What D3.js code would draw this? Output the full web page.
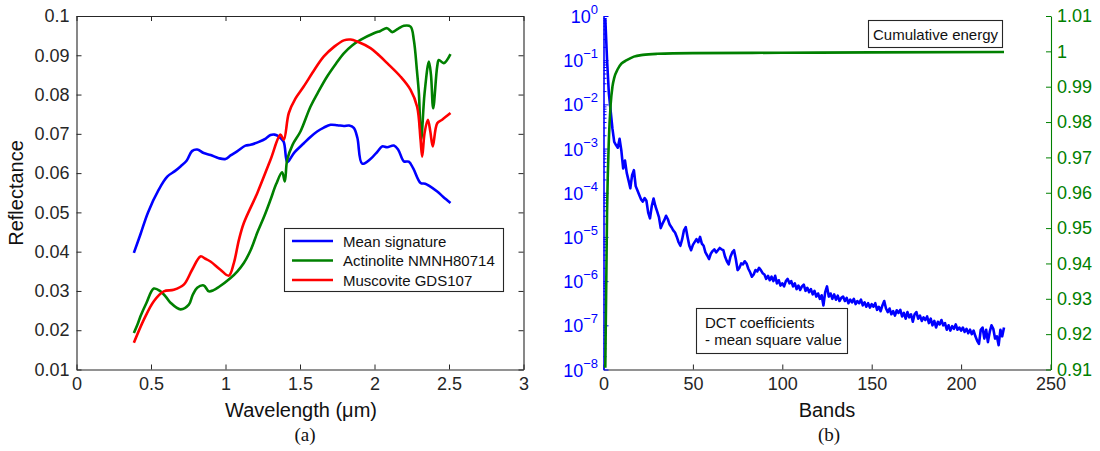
<!DOCTYPE html>
<html><head><meta charset="utf-8">
<script src="https://cdn.jsdelivr.net/npm/d3@7"></script>
<style>
body{margin:0;background:#fff}
svg{display:block}
text{font-family:"Liberation Sans",Arial,Helvetica,sans-serif}
</style>
</head><body>
<svg id="c" width="1100" height="451"></svg>
<script>
// ---------- Panel (a) data ----------
const meanWl   = [0.385,0.43,0.48,0.552,0.609,0.66,0.698,0.74,0.775,0.81,0.854,0.90,0.955,1.0,1.034,1.08,1.134,1.168,1.22,1.27,1.302,1.33,1.358,1.39,1.414,1.44,1.459,1.526,1.57,1.615,1.66,1.705,1.75,1.794,1.83,1.861,1.885,1.917,1.973,2.02,2.051,2.085,2.13,2.16,2.197,2.23,2.26,2.309,2.34,2.365,2.421,2.46,2.51];
const meanRefl = [0.0397,0.0445,0.050,0.0558,0.0591,0.0605,0.0617,0.0632,0.0656,0.0660,0.0651,0.0646,0.0638,0.0636,0.0645,0.0656,0.0670,0.0672,0.0679,0.0688,0.0697,0.0698,0.0693,0.0680,0.0628,0.0640,0.0651,0.0676,0.0692,0.0706,0.0716,0.0723,0.0722,0.0720,0.0721,0.0715,0.0690,0.0624,0.0636,0.0655,0.0668,0.0666,0.0670,0.0659,0.0630,0.0629,0.0612,0.0575,0.0573,0.0568,0.0553,0.0540,0.0524];

const actWl   = [0.385,0.41,0.43,0.47,0.519,0.564,0.60,0.631,0.698,0.754,0.78,0.81,0.854,0.888,0.92,0.955,1.034,1.08,1.123,1.17,1.213,1.26,1.302,1.34,1.380,1.398,1.414,1.45,1.503,1.570,1.62,1.682,1.74,1.794,1.85,1.906,1.996,2.04,2.085,2.119,2.16,2.197,2.242,2.264,2.285,2.298,2.313,2.336,2.365,2.379,2.394,2.421,2.432,2.465,2.51];
const actRefl = [0.0193,0.0215,0.0236,0.0270,0.0306,0.0299,0.0285,0.0270,0.0253,0.0265,0.0290,0.0308,0.0314,0.0299,0.0302,0.0310,0.0333,0.0350,0.0371,0.0405,0.0448,0.0490,0.0532,0.0572,0.0602,0.0579,0.0634,0.0672,0.0706,0.0769,0.0805,0.0846,0.0878,0.0905,0.0925,0.0939,0.0956,0.0962,0.0969,0.0959,0.0968,0.0975,0.0973,0.0939,0.0860,0.0803,0.0685,0.0803,0.0884,0.0850,0.0765,0.0872,0.0888,0.0880,0.0903];

const musWl   = [0.385,0.452,0.519,0.586,0.653,0.720,0.776,0.832,0.865,0.899,0.966,1.022,1.056,1.09,1.123,1.213,1.302,1.369,1.391,1.425,1.47,1.526,1.60,1.660,1.73,1.794,1.84,1.884,1.973,2.03,2.085,2.174,2.242,2.286,2.309,2.320,2.336,2.358,2.375,2.391,2.421,2.454,2.51];
const musRefl = [0.0168,0.0227,0.0274,0.0299,0.0303,0.0316,0.0354,0.0388,0.0382,0.0375,0.0354,0.0339,0.0371,0.0430,0.0473,0.0549,0.0634,0.0698,0.0685,0.0753,0.0790,0.0821,0.0865,0.0897,0.0922,0.0938,0.0940,0.0935,0.0918,0.0900,0.0880,0.0846,0.0812,0.0769,0.0685,0.0642,0.0702,0.0736,0.0705,0.0668,0.0727,0.0736,0.0753];

const wlTicks   = [0,0.5,1,1.5,2,2.5,3];
const reflTicks = [0.01,0.02,0.03,0.04,0.05,0.06,0.07,0.08,0.09,0.1];

// ---------- Panel (b) data ----------
// band index and log10 of the mean square DCT coefficient
const dctBand  = [1,2,3,4,5,6,7,8,9,10,11,12,13,14,15,16,17,18,19,20,21,22,23,24,25,26,27,28,29,30,31,32,33,34,35,36,37,38,39,40,41,42,43,44,45,46,47,48,49,50,52,53,54,55,56,57,58,59,60,61,62,63,64,65,66,67,68,69,70,71,72,73,74,75,76,77,78,79,80,81,82,83,84,85,86,87,88,89,
  90,91,92,93,94,95,96,97,98,99,100,101,102,103,104,105,106,107,108,109,110,111,112,113,114,115,116,117,118,119,120,121,122,123,124,125,126,127,128,129,130,131,132,133,134,135,136,137,138,139,140,141,142,143,144,145,146,147,148,149,150,151,152,153,154,155,156,157,158,159,160,161,162,163,164,165,166,167,168,169,170,171,172,173,174,175,176,177,178,179,180,181,182,183,184,185,186,187,188,189,190,191,192,193,194,195,196,197,198,199,200,201,202,203,204,205,206,207,208,209,210,211,212,213,214,215,216,217,218,219,220,221,222,223,224];
const dctLog10 = [-0.05,-1.0,-1.75,-2.15,-2.55,-2.85,-2.92,-2.98,-2.78,-3.05,-3.45,-3.27,-3.55,-3.72,-3.9,-3.6,-3.49,-3.85,-3.95,-4.05,-4.15,-4.2,-4.12,-4.18,-4.45,-4.58,-4.3,-4.13,-4.3,-4.42,-4.55,-4.8,-4.7,-4.62,-4.52,-4.6,-4.72,-4.78,-4.85,-4.9,-5.0,-5.12,-5.2,-5.05,-4.85,-4.78,-5.0,-5.2,-5.3,-5.18,-5.05,-5.12,-5.0,-5.15,-5.2,-5.35,-5.42,-5.5,-5.38,-5.32,-5.28,-5.35,-5.3,-5.25,-5.28,-5.3,-5.45,-5.55,-5.62,-5.45,-5.35,-5.3,-5.5,-5.75,-5.7,-5.6,-5.62,-5.55,-5.6,-5.72,-5.8,-5.9,-5.85,-5.75,-5.78,-5.7,-5.75,-5.82,
  -5.85,-5.95,-5.88,-5.98,-5.9,-6.0,-5.88,-6.05,-5.98,-6.1,-6.05,-6.12,-6.0,-5.95,-6.05,-6.0,-6.12,-6.05,-6.18,-6.1,-6.2,-6.12,-6.08,-6.22,-6.15,-6.25,-6.18,-6.3,-6.22,-6.35,-6.28,-6.4,-6.32,-6.55,-6.25,-6.12,-6.35,-6.28,-6.4,-6.3,-6.42,-6.33,-6.45,-6.38,-6.35,-6.45,-6.38,-6.5,-6.42,-6.48,-6.4,-6.52,-6.45,-6.5,-6.42,-6.55,-6.48,-6.58,-6.5,-6.6,-6.52,-6.58,-6.5,-6.65,-6.58,-6.68,-6.55,-6.45,-6.62,-6.7,-6.62,-6.75,-6.68,-6.78,-6.66,-6.72,-6.65,-6.8,-6.72,-6.85,-6.7,-6.82,-6.75,-6.92,-6.75,-6.7,-6.85,-6.78,-6.9,-6.82,-6.88,-6.8,-6.95,-6.85,-7.0,-6.9,-7.05,-6.92,-6.98,-6.88,-7.0,-6.95,-7.1,-7.0,-7.12,-7.02,-7.08,-6.98,-7.1,-7.05,-7.12,-7.05,-7.15,-7.08,-7.18,-7.1,-7.2,-7.12,-7.25,-7.35,-7.42,-7.1,-7.05,-7.3,-7.1,-7.38,-7.15,-7.0,-7.08,-7.3,-7.25,-7.45,-7.1,-7.25,-7.05];

const cumBand   = [1,2,3,4,5,6,8,10,13,17,22,30,50,100,150,224];
const cumEnergy = [0.9105,0.955,0.975,0.985,0.990,0.9925,0.995,0.9965,0.9975,0.9985,0.999,0.9993,0.9995,0.9996,0.9997,0.9998];

const bandTicks   = [0,50,100,150,200,250];
const dctDecades  = [0,-1,-2,-3,-4,-5,-6,-7,-8];
const energyTicks = [0.91,0.92,0.93,0.94,0.95,0.96,0.97,0.98,0.99,1,1.01];

// ---------- Drawing ----------
const BLUE = "#0000ff", GREEN = "#008000", RED = "#ff0000", AX = "#262626";
const svg = d3.select("#c");
const yTop = 16, yBot = 369.5;

// Panel (a)
const xA = d3.scaleLinear([0,3],[76.5,523.5]);
const yA = d3.scaleLinear([0.01,0.1],[yBot,yTop]);

function styleAxis(g, color, fs){
  g.selectAll("path.domain").attr("stroke", color).attr("stroke-width",1.1);
  g.selectAll(".tick line").attr("stroke", color);
  g.selectAll(".tick text").attr("fill", color).style("font-size", fs+"px")
    .style("font-family",'"Liberation Sans",Arial,Helvetica,sans-serif');
}

const fmtA = d => (d===0? "0" : String(d));
let g;
g = svg.append("g").attr("transform",`translate(0,${yBot})`)
  .call(d3.axisBottom(xA).tickValues(wlTicks).tickFormat(fmtA).tickSizeInner(-5).tickSizeOuter(0).tickPadding(8));
styleAxis(g, AX, 18);
g = svg.append("g").attr("transform",`translate(0,${yTop})`)
  .call(d3.axisTop(xA).tickValues(wlTicks).tickFormat("").tickSizeInner(-5).tickSizeOuter(0));
styleAxis(g, AX, 18);
g = svg.append("g").attr("transform",`translate(76.5,0)`)
  .call(d3.axisLeft(yA).tickValues(reflTicks).tickFormat(d=>String(+d.toFixed(2))).tickSizeInner(-5).tickSizeOuter(0).tickPadding(7));
styleAxis(g, AX, 18);
g = svg.append("g").attr("transform",`translate(523.5,0)`)
  .call(d3.axisRight(yA).tickValues(reflTicks).tickFormat("").tickSizeInner(-5).tickSizeOuter(0));
styleAxis(g, AX, 18);

svg.append("clipPath").attr("id","clipA").append("rect")
  .attr("x",76.5).attr("y",yTop).attr("width",447).attr("height",yBot-yTop);

const lineA = d3.line().x(d=>xA(d[0])).y(d=>yA(d[1])).curve(d3.curveCatmullRom.alpha(0.5));
const seriesA = [
  {wl:meanWl, r:meanRefl, c:BLUE},
  {wl:actWl, r:actRefl, c:GREEN},
  {wl:musWl, r:musRefl, c:RED}
];
const gA = svg.append("g").attr("clip-path","url(#clipA)");
seriesA.forEach(s=>{
  gA.append("path").datum(s.wl.map((w,i)=>[w,s.r[i]]))
    .attr("d", lineA).attr("fill","none").attr("stroke", s.c)
    .attr("stroke-width",2.6).attr("stroke-linejoin","round");
});

// Legend
const legNames = ["Mean signature","Actinolite NMNH80714","Muscovite GDS107"];
const legColors = [BLUE, GREEN, RED];
svg.append("rect").attr("x",284.5).attr("y",228.5).attr("width",219).attr("height",63)
  .attr("fill","#fff").attr("stroke",AX).attr("stroke-width",1.1);
legNames.forEach((n,i)=>{
  const y = 241 + i*19.5;
  svg.append("line").attr("x1",292).attr("x2",333).attr("y1",y).attr("y2",y)
    .attr("stroke",legColors[i]).attr("stroke-width",2.6);
  svg.append("text").attr("x",343).attr("y",y+5.5).style("font-size","15px").attr("fill","#111").text(n);
});

svg.append("text").attr("x",18).attr("y",193).attr("transform","rotate(-90,18,193)")
  .attr("text-anchor","middle").attr("dominant-baseline","middle")
  .style("font-size","20px").attr("fill","#111").text("Reflectance");
svg.append("text").attr("x",301).attr("y",417).attr("text-anchor","middle")
  .style("font-size","20px").attr("fill","#111").text("Wavelength (\u03bcm)");
svg.append("text").attr("x",305).attr("y",441).attr("text-anchor","middle")
  .style("font-size","19px").style("font-family",'"Liberation Serif","Times New Roman",serif')
  .attr("fill","#111").text("(a)");

// Panel (b)
const xB  = d3.scaleLinear([0,250],[603.5,1050.5]);
const yBl = d3.scaleLog([1e-8,1],[yBot,yTop]);
const yBr = d3.scaleLinear([0.91,1.01],[yBot,yTop]);

g = svg.append("g").attr("transform",`translate(0,${yBot})`)
  .call(d3.axisBottom(xB).tickValues(bandTicks).tickFormat(d=>String(d)).tickSizeInner(-5).tickSizeOuter(0).tickPadding(8));
styleAxis(g, AX, 18);

// minor log ticks
const minorVals = [];
dctDecades.forEach(e=>{ if(e>-8) for(let m=2;m<10;m++){ minorVals.push(m*Math.pow(10,e-1)); } });
g = svg.append("g").attr("transform",`translate(603.5,0)`)
  .call(d3.axisLeft(yBl).tickValues(minorVals).tickFormat("").tickSizeInner(-3).tickSizeOuter(0));
styleAxis(g, BLUE, 18);
g = svg.append("g").attr("transform",`translate(603.5,0)`)
  .call(d3.axisLeft(yBl).tickValues(dctDecades.map(e=>Math.pow(10,e))).tickFormat("").tickSizeInner(-5).tickSizeOuter(0));
styleAxis(g, BLUE, 18);
dctDecades.forEach(e=>{
  const y = yBl(Math.pow(10,e));
  const sup = e===0 ? "0" : "\u2212"+Math.abs(e);
  const t = svg.append("text").attr("x",598).attr("y",y+7).attr("text-anchor","end")
    .attr("fill",BLUE).style("font-size","18px");
  t.append("tspan").text("10");
  t.append("tspan").attr("dy",-9).style("font-size","13px").text(sup);
});

g = svg.append("g").attr("transform",`translate(1051,0)`)
  .call(d3.axisRight(yBr).tickValues(energyTicks).tickFormat(d=>String(+d.toFixed(2))).tickSizeInner(-5).tickSizeOuter(0).tickPadding(6));
styleAxis(g, GREEN, 18);

svg.append("clipPath").attr("id","clipB").append("rect")
  .attr("x",603.5).attr("y",yTop-2).attr("width",447).attr("height",yBot-yTop+2);
const gB = svg.append("g").attr("clip-path","url(#clipB)");
const lineDct = d3.line().x(d=>xB(d[0])).y(d=>yBl(d[1]));
gB.append("path").datum(dctBand.map((b,i)=>[b, Math.pow(10, dctLog10[i])]))
  .attr("d", lineDct).attr("fill","none").attr("stroke",BLUE).attr("stroke-width",2.6).attr("stroke-linejoin","round");
const lineCum = d3.line().x(d=>xB(d[0])).y(d=>yBr(d[1])).curve(d3.curveMonotoneX);
gB.append("path").datum(cumBand.map((b,i)=>[b, cumEnergy[i]]))
  .attr("d", lineCum).attr("fill","none").attr("stroke",GREEN).attr("stroke-width",2.6);

// annotation boxes
svg.append("rect").attr("x",868.5).attr("y",20.5).attr("width",134).attr("height",27)
  .attr("fill","#fff").attr("stroke",AX).attr("stroke-width",1.1);
svg.append("text").attr("x",935.5).attr("y",39.5).attr("text-anchor","middle")
  .style("font-size","15px").attr("fill","#111").text("Cumulative energy");

svg.append("rect").attr("x",696.5).attr("y",308.5).attr("width",151).attr("height",45)
  .attr("fill","#fff").attr("stroke",AX).attr("stroke-width",1.1);
svg.append("text").attr("x",705).attr("y",327.5).style("font-size","15px").attr("fill","#111").text("DCT coefficients");
svg.append("text").attr("x",705).attr("y",344.5).style("font-size","15px").attr("fill","#111").text("- mean square value");

svg.append("text").attr("x",827).attr("y",417).attr("text-anchor","middle")
  .style("font-size","20px").attr("fill","#111").text("Bands");
svg.append("text").attr("x",829).attr("y",441).attr("text-anchor","middle")
  .style("font-size","19px").style("font-family",'"Liberation Serif","Times New Roman",serif')
  .attr("fill","#111").text("(b)");
</script>
</body></html>
